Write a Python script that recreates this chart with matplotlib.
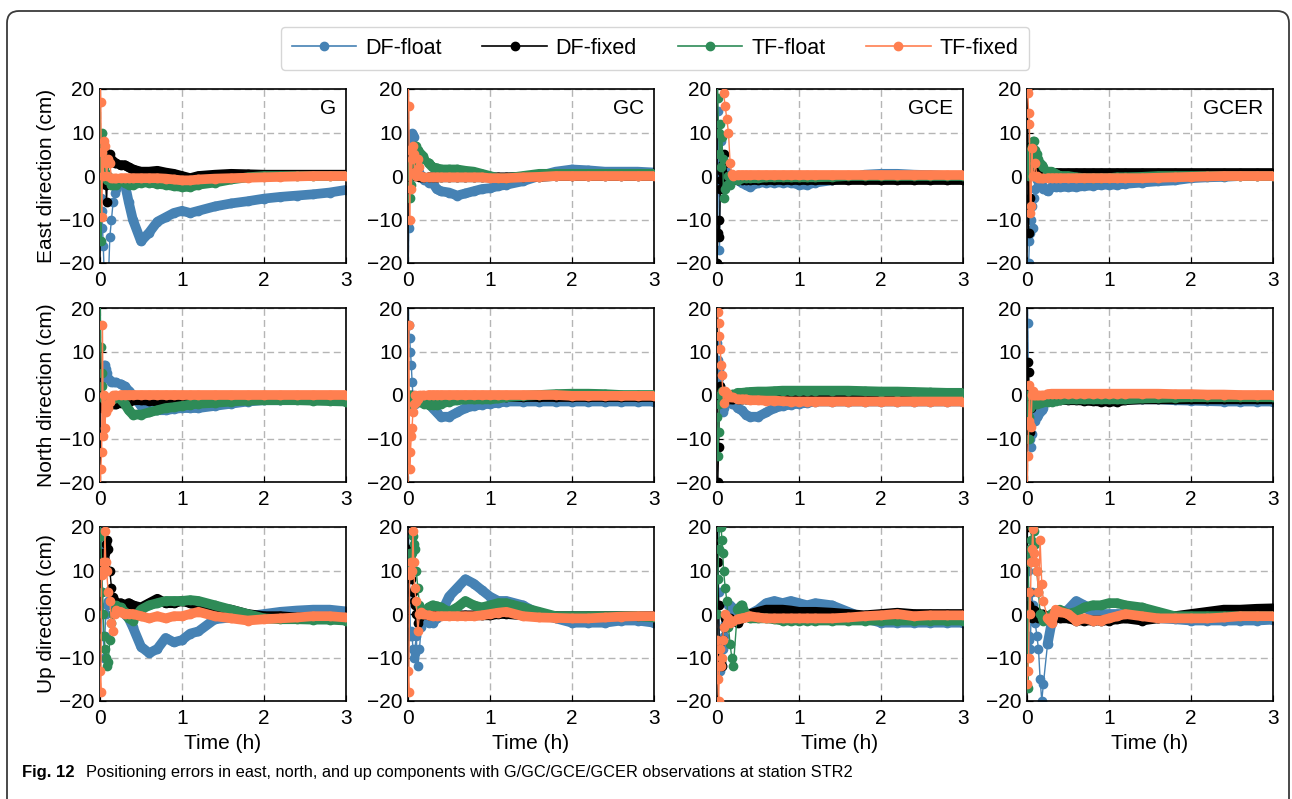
import numpy as np
import matplotlib.pyplot as plt
from matplotlib.lines import Line2D
from matplotlib.patches import FancyBboxPatch

plt.rcParams['font.family'] = ['Liberation Sans', 'DejaVu Sans']

# epochs (hours) shared by all series
time_h = [0, 0.01, 0.02, 0.03, 0.04, 0.05, 0.06, 0.07, 0.08,
          0.1, 0.12, 0.14, 0.16, 0.18, 0.2, 0.25, 0.3, 0.35, 0.4,
          0.5, 0.6, 0.7, 0.8, 0.9, 1.0, 1.1, 1.2, 1.4, 1.6, 1.8, 2.0, 2.2, 2.4, 2.6, 2.8, 3.0]

# ---- East (cm) ----
east_g_dfl = [-2, -5, -8, -12, -16, -22, -25, -22, -25,
              -25, -14, -10, -6, -4, -3, -1, -1.5, -6, -10,
              -15, -13, -10.5, -9.5, -8.5, -8, -8.5, -8, -7, -6.3, -5.8, -5.2, -4.8, -4.5, -4.2, -3.8, -3.2]
east_g_dfx = [0, 3, 5, 2, 3, 6, 3, -2, -6,
              5, 5, 4, 3.5, 3, 3, 2.5, 2.5, 2, 1.5,
              1, 1, 1.2, 0.8, 0.5, 0, -0.5, 0, 0.3, 0.5, 0.4, 0.3, 0.3, 0.3, 0.3, 0.3, 0.3]
east_g_tfl = [25, -15, 10, 5, 3, 2, 1, 0, -1,
              0, -1, -2, -2, -1.5, -2, -1, -1.5, -2, -2,
              -1.5, -1.5, -1.8, -2, -2.3, -2.5, -2.5, -2, -1.5, -0.8, -0.3, 0, 0, 0, 0, 0, 0]
east_g_tfx = [25, 17, -9.5, 5.5, 0, 8, 7, 3, 0,
              4, 3, -0.5, -0.5, -0.5, -0.5, -0.5, -0.5, -0.5, -0.5,
              -0.5, -0.5, -0.5, -0.6, -0.8, -1, -1, -0.8, -0.6, -0.5, -0.4, -0.3, -0.2, -0.1, 0, 0, 0]

east_gc_dfl = [-25, -12, 5, 8, 9, 10, 9.5, 9, 7,
               5, 2, 1, 0, -0.5, -1, -1.5, -1.5, -3, -3.5,
               -3.8, -4.5, -4, -3.5, -3, -2.8, -2.3, -2, -1.2, 0, 1, 1.5, 1.3, 1, 1, 1, 0.8]
east_gc_dfx = [5, 2, -2, 1, 3, 2, 1, 0.5, 0,
               0.5, 0, -0.3, -0.3, -0.3, -0.3, -0.3, -0.3, -0.3, -0.3,
               -0.3, -0.3, -0.3, -0.3, -0.3, -0.3, -0.3, -0.3, -0.2, -0.2, 0, 0, 0, 0, 0, 0, 0]
east_gc_tfl = [3, 1, 0, -5, -2, 3, 5, 6, 7,
               7, 6, 5.5, 5, 4.5, 4, 3, 2, 1.8, 1.5,
               1.5, 1.5, 1.2, 1, 0.5, 0, -0.5, -0.5, 0, 0.5, 0.5, 0.5, 0.5, 0.5, 0.5, 0.5, 0.5]
east_gc_tfx = [25, 16, -10, 6, -3, 4, 7, 5, 1,
               0, 4, 2, 0, -0.3, -0.3, -0.3, -0.3, -0.3, -0.3,
               -0.3, -0.3, -0.3, -0.3, -0.3, -0.5, -0.5, -0.5, -0.3, -0.2, 0, 0, 0, 0, 0, 0, 0]

east_gce_dfl = [-25, 15, 5, -17, 5, 8, 3, 1, 0,
                -1, 1, 0, -0.5, -1, -0.5, -1, -1.5, -2, -2.5,
                -1.5, -1.5, -1.5, -1.5, -1.5, -2, -2, -1.5, -1, -0.5, 0.3, 0.5, 0.5, 0.3, 0.2, 0, 0]
east_gce_dfx = [-20, -13, -10, -14, -3, -1, 1, 3, 5,
                3, 0, -0.5, -1, -1, -1, -1, -1, -1, -1,
                -1, -1, -1, -1, -1, -1, -1, -1, -1, -1, -1, -1, -1, -1, -1, -1, -1]
east_gce_tfl = [25, 18, 10, 5, 12, 2, 9, 4, -5,
                -3, -2, 0, -2, -1, 0, -1, -0.5, -0.5, -0.5,
                -0.5, -0.3, -0.3, -0.3, -0.3, -0.3, -0.3, -0.3, -0.2, 0, 0, 0, 0, 0, 0, 0, 0]
east_gce_tfx = [25, 25, 25, 25, 25, 25, 25, 22, 19,
                16, 13, 10, 3, 0.5, 0, 0.2, 0.2, 0.2, 0.2,
                0.2, 0.2, 0.2, 0.2, 0.2, 0.2, 0.2, 0.2, 0.2, 0.2, 0.2, 0.2, 0.2, 0.2, 0.2, 0.2, 0.2]

east_gcer_dfl = [-25, -25, -20, -15, -13, -10, -7, -12, -5,
                 -3, -1, -2, -1, -2, -3, -3.5, -2.5, -2.5, -2.5,
                 -2.5, -2.5, -2.3, -2.2, -2, -2, -2, -1.8, -1.5, -1.2, -1, -0.5, -0.3, -0.2, 0, 0, 0]
east_gcer_dfx = [20, 12, -13, 5, -5, 7, 2, 6, 5,
                 5, 3, 1.5, 1.2, 1, 1, 0.6, 0.6, 0.6, 0.6,
                 0.6, 0.6, 0.6, 0.6, 0.6, 0.6, 0.6, 0.6, 0.6, 0.6, 0.6, 0.6, 0.6, 0.6, 0.6, 0.6, 0.6]
east_gcer_tfl = [5, 2, 0, 2, 4, 6, 7, 8, 8,
                 6, 5, 4, 3, 2.5, 2, 1, 1, 0.5, 0,
                 0, -0.3, -0.5, -0.5, -0.5, -0.5, -0.3, -0.3, -0.2, 0, 0, 0, 0, 0, 0, 0, 0]
east_gcer_tfx = [20, 19, 14.5, 12, -8.5, -7, 6.5, 0, 0,
                 3, 0, -0.5, -0.5, -0.5, -0.5, -0.5, -0.5, -0.5, -0.5,
                 -0.5, -0.5, -0.5, -0.5, -0.5, -0.5, -0.5, -0.5, -0.5, -0.4, -0.3, -0.2, -0.1, 0, 0, 0, 0]

# ---- North (cm) ----
north_g_dfl = [-25, 3, 6, 5, 6, 7, 7, 6, 5,
               4, 3.5, 3, 3, 3, 3, 2.5, 2, 1, 0,
               -2.5, -3.5, -3.5, -3.5, -3.2, -3, -3, -3, -2.5, -2, -1.5, -1.2, -1.2, -1, -1, -1, -1]
north_g_dfx = [0, -2, -3, -1, -2, -2.5, -2, -2, -2,
               -2, -2, -2, -2, -2, -2, -1.8, -1.5, -1.5, -1.2,
               -1.2, -1.3, -1.5, -1.5, -1.5, -1.5, -1.3, -1.2, -1, -0.8, -0.6, -0.5, -0.4, -0.3, -0.3, -0.3, -0.3]
north_g_tfl = [25, 11, 5, 2, 0, -1, -1, -1, -1,
               -1, -1, -1, -1, -0.5, -0.5, -1, -2, -3.5, -4.5,
               -4.5, -4, -3.5, -3, -2.8, -2.5, -2.2, -2, -1.8, -1.5, -1.3, -1.2, -1.2, -1.2, -1.3, -1.4, -1.5]
north_g_tfx = [-25, -17, -13, 16, -9.5, 0, -7.5, -3.8, -2,
               -3, -1.5, -0.5, 0, 0, 0, 0, 0, 0, 0,
               0, 0, 0, 0, 0, 0, 0, 0, 0, 0, 0, 0, 0, 0, 0, 0, 0]

north_gc_dfl = [25, 16, 13, 10, 7, 3, 0, -1, -2,
                -1, -1, -1, -1, -1, -1, -2, -3, -4, -5,
                -5, -4, -3, -2.5, -2.2, -2, -1.8, -1.5, -1.5, -1.5, -1.5, -1.5, -1.5, -1.5, -1.5, -1.5, -1.5]
north_gc_dfx = [0, -1, -2, -1, 0, -0.5, -0.5, -0.5, -0.5,
                -0.5, -0.5, -0.5, -0.5, -0.5, -0.5, -0.5, -0.5, -0.5, -0.5,
                -0.5, -0.5, -0.5, -0.5, -0.5, -0.5, -0.5, -0.5, -0.5, -0.5, -0.5, -0.5, -0.5, -0.5, -0.5, -0.5, -0.5]
north_gc_tfl = [0, -2, -1, 0, -1, -1, -1, -1, -1,
                -1, -1.2, -1.5, -1.5, -1.8, -2, -2.2, -2.3, -2.2, -2,
                -1.5, -1.2, -1, -1, -1, -1, -0.8, -0.5, -0.2, 0, 0.2, 0.3, 0.3, 0.2, 0, 0, 0]
north_gc_tfx = [-25, 16, -17, -13, -9.5, -7.5, -3.8, -2, 0,
                -1.5, -1, 0, 0, 0, 0, 0, 0, 0, 0,
                0, 0, 0, 0, 0, 0, 0, 0, 0, 0, 0, -0.2, -0.2, -0.2, -0.2, -0.2, -0.2]

north_gce_dfl = [12, 8, 6, 4, 2, 0, -2, -3.8, -3,
                 -2, -1, -1, -1.5, -2, -2, -3, -3.5, -4.5, -5,
                 -5, -4, -3, -2.5, -2.2, -2, -1.8, -1.5, -1.5, -1.5, -1.5, -1.5, -1.5, -1.5, -1.5, -1.5, -1.5]
north_gce_dfx = [-25, -20, -12, 0, 2, 0, -1, -1, -1,
                 -1, -1, -1, -1, -1, -1, -1, -1, -1, -0.8,
                 -0.5, -0.5, -0.5, -0.5, -0.5, -0.5, -0.5, -0.5, -0.5, -0.5, -0.5, -0.5, -0.5, -0.5, -0.5, -0.5, -0.5]
north_gce_tfl = [-5, -14, -8.5, -2, 0, 0, 1, 0.5, 0.5,
                 0.5, 0, 0, 0, 0.2, 0.3, 0.5, 0.5, 0.6, 0.7,
                 0.8, 0.8, 0.9, 1, 1, 1, 1, 1, 1, 1, 0.9, 0.8, 0.8, 0.7, 0.6, 0.5, 0.5]
north_gce_tfx = [25, 19, 16.5, 13.5, 10.5, 6.8, 4.5, 1, -1.8,
                 1, 0.5, 0, -0.5, -0.5, -0.5, -1, -1, -1, -1.2,
                 -1.2, -1.3, -1.3, -1.4, -1.5, -1.5, -1.5, -1.5, -1.5, -1.5, -1.5, -1.5, -1.5, -1.5, -1.5, -1.5, -1.5]

north_gcer_dfl = [25, 16.5, 0, -5, -10, -12, -9, -6, -4,
                  -6, -5, -4.5, -4, -3.5, -3, -1, -0.5, -0.5, -0.5,
                  -0.5, -0.5, -0.7, -0.8, -1, -1, -1, -1, -1, -1, -1.2, -1.3, -1.4, -1.5, -1.5, -1.5, -1.5]
north_gcer_dfx = [-25, 7.5, 5.2, -2, -8.4, -3, 0, -0.5, -0.5,
                  -1, -1, -1, -1, -1, -1, -1, -1, -1.1, -1.1,
                  -1.2, -1.2, -1.3, -1.4, -1.5, -1.5, -1.5, -1.2, -1, -1, -1, -1, -1, -1, -1, -1, -1]
north_gcer_tfl = [0, -5, -10, -5, -3, -2, -2, -2, -2,
                  -2, -2, -1.8, -1.8, -1.6, -1.5, -1.5, -1.5, -1.3, -1.2,
                  -1, -1, -1, -1, -1, -1, -1, -1, -0.8, -0.7, -0.6, -0.5, -0.5, -0.5, -0.5, -0.5, -0.5]
north_gcer_tfx = [-25, -14, -6, 2.3, -7, -7.3, 0, 1, 0,
                  0, 0, 0, 0, 0, 0, 0.2, 0.3, 0.3, 0.3,
                  0.3, 0.3, 0.3, 0.3, 0.3, 0.3, 0.3, 0.3, 0.3, 0.3, 0.2, 0.2, 0.1, 0.1, 0, 0, 0]

# ---- Up (cm) ----
up_g_dfl = [25, 20, 15, 5, -5, -10, -5, 0, 2,
            3, 3, 2, 2, 2, 1.5, 1, 0, -1, -3,
            -7.5, -9, -8, -5.5, -6.5, -6, -4.5, -4, -1.2, -0.8, -0.5, 0, 0.5, 0.8, 1, 1, 0.6]
up_g_dfx = [12, 14, 10, 12, 10, 12, 14, 16, 17,
            15, 10, 6, 4, 3, 2.5, 2.5, 2, 2.5, 2,
            1.5, 2.5, 3.5, 2.5, 2.5, 3, 2.5, 2, 1.5, 1, 0, -0.5, -0.5, -0.8, -0.8, -1, -1]
up_g_tfl = [22, 18, 10, 5, 0, -5, -8, -10, -12,
            -11, -6, -2, 0, 1, 2, 1.5, 0.5, -1, -1.5,
            1, 2, 2.5, 3, 3, 3, 3.2, 3, 2, 1, 0, -1, -1.2, -1.2, -1.3, -1.3, -1.5]
up_g_tfx = [-13, -18, 10, 9, 12, 10, 19, 12, 10,
            5, 3, -2, -4, 0, 1, 0.5, 0, 0, 0,
            -0.5, -1, -0.5, -1, -0.5, -0.5, 0, 0.5, -0.5, -1, -1.5, -1.2, -1, -0.8, -0.5, -0.5, -0.8]

up_gc_dfl = [25, 15, 5, -5, -4, -5, -8, -10, -9,
             -5, -12, -8, -3, -1, 0, -2, -2, -1, 0,
             4, 6, 8, 7, 5.5, 4, 3, 3, 2, 0, -1, -2, -2, -2, -1.5, -1.5, -2]
up_gc_dfx = [15, 10, 12, 10, 8, 10, 5, 3, 2,
             0, -2, -1, 0, 0, 0, -0.3, -0.3, -0.3, -0.3,
             -0.3, -0.3, -0.3, -0.3, -0.3, -0.3, 0, 0, -0.3, -0.5, -0.5, -0.5, -0.5, -0.5, -0.5, -0.5, -0.5]
up_gc_tfl = [12, 10, 14, 12, 10, 14, 18, 16, 15,
             10, 6, 2, 0, 0.5, 1, 1.5, 2, 1.8, 1.5,
             0.5, 1.5, 3, 2, 1.5, 2, 2.5, 2.5, 1.5, 0.5, -0.5, -0.5, -0.5, -0.5, -0.5, -0.5, -0.8]
up_gc_tfx = [-13, -18, 10, 9, 12, 10, 19, 12, 6,
             3, -4, 0, 0.5, 0, 0, -0.3, -0.5, -0.5, -0.5,
             -0.5, -0.5, -0.5, -0.5, -0.3, 0, 0.3, 0.5, -0.5, -0.8, -0.9, -1, -1, -0.8, -0.6, -0.5, -0.5]

up_gce_dfl = [25, 20, 5, -10, -13, -8, -12, -8, -5,
              -2, 0, 2, 2, 1.5, 1, 0, 0, 0, 0,
              1, 2.5, 3, 2.5, 3, 2.5, 2, 2.5, 2, 0.5, -1, -2, -2, -2, -2, -2, -2]
up_gce_dfx = [25, 12, 2, -12, -10, -11, -12, -6, -3,
              -1, -3, -2, -1, -1.5, -1.5, -2, -1, -0.5, 0,
              0.5, 1, 1, 1, 0.8, 0.5, 0.5, 0.5, 0.3, 0, -0.3, 0, 0.3, 0, 0, 0, 0]
up_gce_tfl = [0, 8, 15, 20, 22, 20, 17, 14, 10,
              6, 3, -3, -7, -10, -12, 1, 2, 0, -1,
              -1, -1, -1.2, -1.5, -1.5, -1.5, -1.5, -1.5, -1.5, -1.5, -1.5, -1.5, -1.5, -1.5, -1.5, -1.5, -1.5]
up_gce_tfx = [-6, -15, -20, -12, -8, -12, -10, -6, -3,
              0, -2, -1, -2, -1.5, -1.5, -1.2, -1, -0.8, -0.5,
              -0.8, -1, -1, -1, -1, -1, -1, -1, -1, -0.8, -0.5, -0.3, 0, -0.5, -0.3, -0.3, -0.3]

up_gcer_dfl = [25, 10, -5, -6, -8, 0, 5, 2, 0,
               -2, -5, -8, -15, -20, -16, -7, -2, -1, 0,
               1, 3, 2, 0, 0, 0, 0, 0, -0.5, -1, -1.2, -1.5, -1.5, -1.5, -1.5, -1.5, -1.3]
up_gcer_dfx = [20, 12, 5, 2, 0, 0, -1, 0, 1,
               0, 0.5, -1, -0.5, 0, 0, -0.5, -0.5, -0.8, -1,
               -1, -1.5, -1.5, -1.5, -1.5, -1.5, -1.2, -1, -1.5, -1, -0.5, 0, 0.5, 1, 1, 1.2, 1.3]
up_gcer_tfl = [0, -17, 12, 13, 15, 17, 20, 20, 19,
               16, 10, 5, 0, -1, -1.5, -1, 0, 0.5, 1,
               0, 0.5, 1.5, 2, 2, 2.5, 2.5, 2, 1.5, 0.5, -0.5, -0.5, -0.5, -0.5, -0.5, -0.5, -0.5]
up_gcer_tfx = [-16, -13, -10, 5, 0, 12, 15, 19.5, 14,
               12, 10, 5, 17, 7, 3, -1, -2, 1, 0.5,
               0, -1.5, -1, -1.5, -1.5, -1, -0.5, 0, -0.5, -1, -1, -1, -1, -0.8, -0.5, -0.5, -0.5]

systems = ['G', 'GC', 'GCE', 'GCER']
ylabels = ['East direction (cm)', 'North direction (cm)', 'Up direction (cm)']
series_names = ['DF-float', 'DF-fixed', 'TF-float', 'TF-fixed']
colors = ['#4682b4', '#000000', '#2e8b57', '#ff7f50']

panels = [
    [[east_g_dfl, east_g_dfx, east_g_tfl, east_g_tfx],
     [east_gc_dfl, east_gc_dfx, east_gc_tfl, east_gc_tfx],
     [east_gce_dfl, east_gce_dfx, east_gce_tfl, east_gce_tfx],
     [east_gcer_dfl, east_gcer_dfx, east_gcer_tfl, east_gcer_tfx]],
    [[north_g_dfl, north_g_dfx, north_g_tfl, north_g_tfx],
     [north_gc_dfl, north_gc_dfx, north_gc_tfl, north_gc_tfx],
     [north_gce_dfl, north_gce_dfx, north_gce_tfl, north_gce_tfx],
     [north_gcer_dfl, north_gcer_dfx, north_gcer_tfl, north_gcer_tfx]],
    [[up_g_dfl, up_g_dfx, up_g_tfl, up_g_tfx],
     [up_gc_dfl, up_gc_dfx, up_gc_tfl, up_gc_tfx],
     [up_gce_dfl, up_gce_dfx, up_gce_tfl, up_gce_tfx],
     [up_gcer_dfl, up_gcer_dfx, up_gcer_tfl, up_gcer_tfx]],
]

W, H = 1292, 799
fig = plt.figure(figsize=(W / 100, H / 100), dpi=100)

# outer rounded frame (open at the bottom edge of the image)
frame = FancyBboxPatch((0.07, -0.2), 12.82, 8.08, boxstyle='round,pad=0,rounding_size=0.12',
                       transform=fig.dpi_scale_trans, facecolor='none', edgecolor='#3a3a3a', lw=1.3)
fig.patches.append(frame)

col_x = [100, 408, 717, 1027]
row_y = [89, 308, 527]
ax_w, ax_h = 246, 174
t = np.array(time_h)
band_from = 15  # dense epochs after the transient look like a thick band

for r in range(3):
    for c in range(4):
        ax = fig.add_axes([col_x[c] / W, 1 - (row_y[r] + ax_h) / H, ax_w / W, ax_h / H])
        for k in range(4):
            ys = np.array(panels[r][c][k])
            ax.plot(t[band_from:], ys[band_from:], color=colors[k], lw=7,
                    solid_capstyle='round', zorder=2 + k)
            ax.plot(t, ys, color=colors[k], lw=1, marker='o', ms=6, zorder=2 + k)
        ax.set_xlim(0, 3)
        ax.set_ylim(-20, 20)
        ax.set_xticks([0, 1, 2, 3])
        ax.set_yticks([-20, -10, 0, 10, 20])
        ax.grid(True, ls=(0, (5, 3)), color='#b5b5b5', lw=1)
        ax.set_axisbelow(True)
        ax.tick_params(direction='in', length=4, labelsize=15)
        ax.tick_params(axis='x', pad=6)
        ax.tick_params(axis='y', pad=4)
        for s in ax.spines.values():
            s.set_linewidth(1.2)
        if r == 0:
            ax.text(0.96, 0.89, systems[c], transform=ax.transAxes, ha='right', va='center', fontsize=15)
        if r == 2:
            ax.set_xlabel('Time (h)', fontsize=15, labelpad=4)
        if c == 0:
            ax.set_ylabel(ylabels[r], fontsize=15, labelpad=2)

handles = [Line2D([], [], color=colors[k], lw=1.2, marker='o', ms=6) for k in range(4)]
leg = fig.legend(handles, series_names, loc='upper center', bbox_to_anchor=(655 / W, 1 - 27 / H),
                 ncol=4, fontsize=15.5, frameon=True, fancybox=True, handlelength=3.0,
                 handletextpad=0.4, columnspacing=1.9, borderpad=0.5, borderaxespad=0)
leg.get_frame().set_edgecolor('#cccccc')
leg.get_frame().set_linewidth(1)

cap_font = ['Liberation Sans Narrow', 'Liberation Sans', 'DejaVu Sans']
fig.text(22 / W, 1 - 773 / H, 'Fig. 12', fontsize=12, fontweight='bold', family=cap_font, va='center')
fig.text(86 / W, 1 - 773 / H,
         'Positioning errors in east, north, and up components with G/GC/GCE/GCER observations at station STR2',
         fontsize=11.8, family=cap_font, va='center')

fig.savefig('out.png', dpi=100)
